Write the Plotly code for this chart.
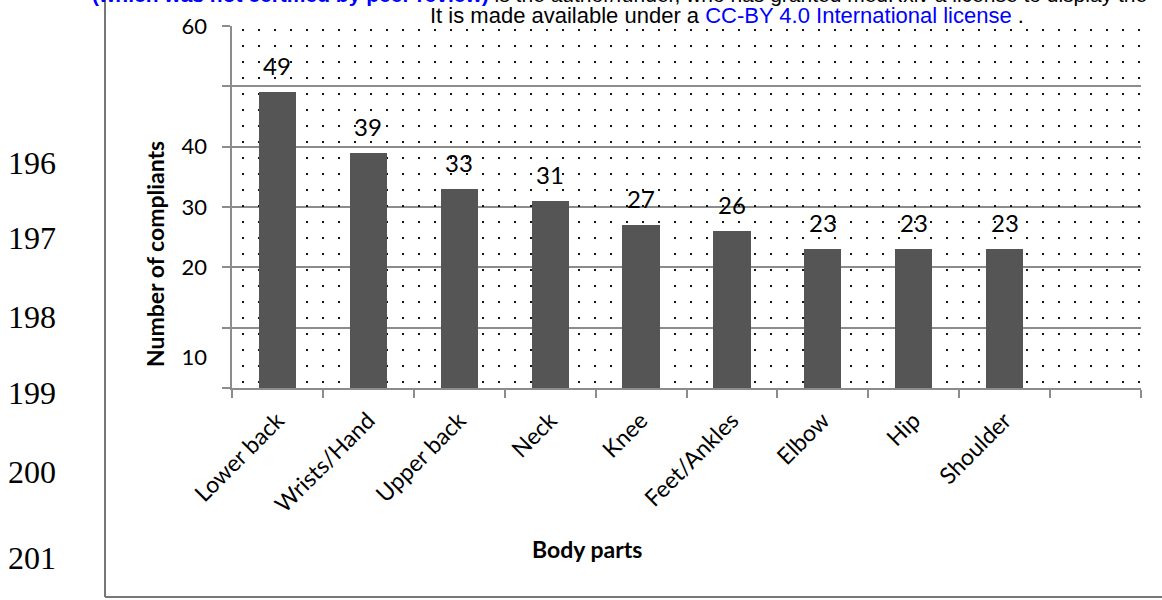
import plotly.graph_objects as go

# ---------------- data ----------------
categories = ["Lower back", "Wrists/Hand", "Upper back", "Neck", "Knee",
              "Feet/Ankles", "Elbow", "Hip", "Shoulder"]
complaints = [49, 39, 33, 31, 27, 26, 23, 23, 23]
grid_vals = [0, 10, 20, 30, 40, 50, 60]
ytick_vals = [60, 40, 30, 20, 5.1]
ytick_text = ["60", "40", "30", "20", "10"]
line_numbers = ["196", "197", "198", "199", "200", "201"]
line_number_y = [163, 238, 317, 393, 472, 558]

# ---------------- layout geometry (pixels) ----------------
W, H = 1162, 600
PL, PR, PT, PB = 232, 1141, 26, 388


def fx(px):
    return (px - PL) / (PR - PL)


def fy(py):
    return (PB - py) / (PB - PT)


FONT = "Lato, 'Open Sans', sans-serif"
x_idx = list(range(len(categories)))

fig = go.Figure()
fig.add_trace(go.Bar(
    x=x_idx, y=complaints, width=0.41,
    marker=dict(color="#555555", line=dict(width=0)),
    hoverinfo="skip", showlegend=False))
# helper traces to activate overlay axes (labels / dot grid)
fig.add_trace(go.Scatter(x=[], y=[], yaxis="y2", showlegend=False, hoverinfo="skip"))
fig.add_trace(go.Scatter(x=[], y=[], xaxis="x2", showlegend=False, hoverinfo="skip"))

# data labels
for i, v in zip(x_idx, complaints):
    fig.add_annotation(x=i, y=v, text=str(v), showarrow=False,
                       yanchor="bottom", yshift=10,
                       font=dict(family=FONT, size=24, color="#000"))

fig.update_layout(
    width=W, height=H,
    margin=dict(l=PL, r=W - PR, t=PT, b=H - PB, pad=0),
    paper_bgcolor="white", plot_bgcolor="white",
    showlegend=False, bargap=0,
    xaxis=dict(
        range=[-0.5, 9.5], tickmode="array", tickvals=x_idx, ticktext=categories,
        tickangle=-45, ticks="", showgrid=False, zeroline=False,
        showline=True, linecolor="#8c8c8c", linewidth=2,
        ticklabelstandoff=8,
        tickfont=dict(family=FONT, size=23, color="#000"),
        minor=dict(tick0=-0.5, dtick=1, ticks="outside", ticklen=8,
                   tickcolor="#8c8c8c", tickwidth=2, showgrid=False),
        fixedrange=True),
    xaxis2=dict(
        overlaying="x", range=[0, PR - PL], tick0=11.3, dtick=16,
        showticklabels=False, ticks="", showline=False, zeroline=False,
        showgrid=True, gridcolor="#111111", gridwidth=2,
        griddash="0px,3px,2px,11px"),
    yaxis=dict(
        range=[0, 60], tickmode="array", tickvals=grid_vals,
        showticklabels=False, ticks="outside", ticklen=8,
        tickcolor="#8c8c8c", tickwidth=2,
        showgrid=True, gridcolor="#8c8c8c", gridwidth=2, zeroline=False,
        showline=True, linecolor="#8c8c8c", linewidth=2),
    yaxis2=dict(
        overlaying="y", side="left", range=[0, 60], tickmode="array",
        tickvals=ytick_vals, ticktext=ytick_text, ticks="", showgrid=False,
        zeroline=False, showline=False, ticklabelstandoff=24,
        tickfont=dict(family=FONT, size=22, color="#000")),
)

# axis titles (placed as in the reference)
fig.add_annotation(xref="paper", yref="paper", x=fx(155), y=fy(254),
                   text="<b>Number of compliants</b>", textangle=-90,
                   showarrow=False, xanchor="center", yanchor="middle",
                   font=dict(family=FONT, size=23, color="#000"))
fig.add_annotation(xref="paper", yref="paper", x=fx(587), y=fy(549),
                   text="<b>Body parts</b>", showarrow=False,
                   xanchor="center", yanchor="middle",
                   font=dict(family=FONT, size=23, color="#000"))

# page line numbers
for t, py in zip(line_numbers, line_number_y):
    fig.add_annotation(xref="paper", yref="paper", x=fx(32), y=fy(py), text=t,
                       showarrow=False, xanchor="center", yanchor="middle",
                       font=dict(family="Liberation Serif, serif", size=32, color="#000"))

# page header text
HFONT = "Liberation Sans, Arial, sans-serif"
fig.add_annotation(xref="paper", yref="paper", x=fx(90), y=fy(-6),
                   text='<b><span style="color:#0000ff">(which was not certified by peer review)</span></b>'
                        ' is the author/funder, who has granted medRxiv a license to display the',
                   showarrow=False, xanchor="left", yanchor="middle",
                   font=dict(family=HFONT, size=21, color="#000"))
fig.add_annotation(xref="paper", yref="paper", x=fx(727), y=fy(15),
                   text='It is made available under a <span style="color:#0000ff">'
                        'CC-BY 4.0 International license</span> .',
                   showarrow=False, xanchor="center", yanchor="middle",
                   font=dict(family=HFONT, size=22, color="#000"))

# page frame lines
fig.add_shape(type="line", xref="paper", yref="paper", x0=fx(105), x1=fx(105),
              y0=fy(0), y1=fy(597), line=dict(color="#777", width=2))
fig.add_shape(type="line", xref="paper", yref="paper", x0=fx(105), x1=fx(1162),
              y0=fy(597), y1=fy(597), line=dict(color="#777", width=2))

fig.write_html("out.html", config={"displayModeBar": False},
               post_script="document.body.style.margin='0px';")
